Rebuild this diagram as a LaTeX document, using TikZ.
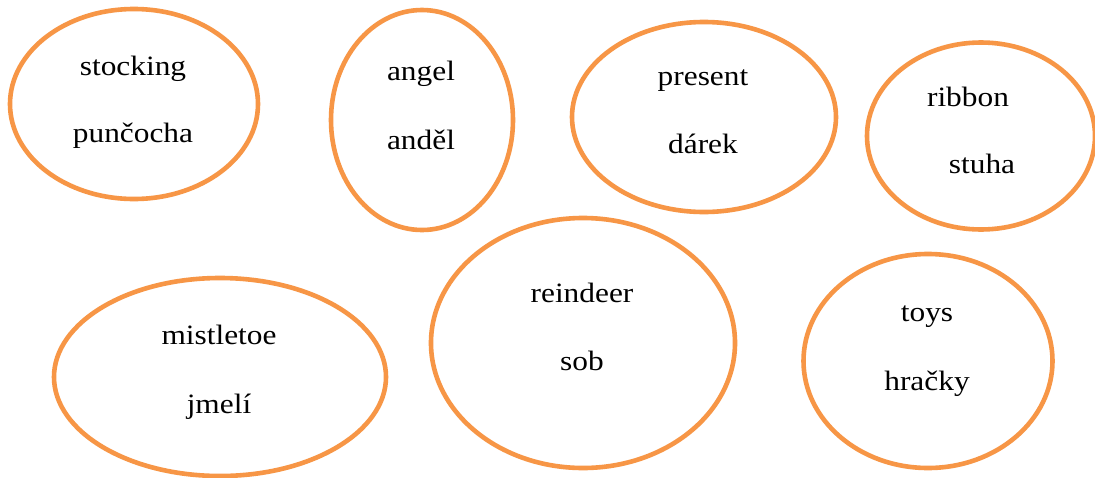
\documentclass[tikz,border=0pt]{standalone}
\usepackage{fontspec}
\setmainfont{Liberation Serif}
\newfontfamily\lblfont[FakeStretch=1.12]{Liberation Serif}
\usetikzlibrary{shapes.geometric}
\definecolor{ringorange}{HTML}{F79646}
\tikzset{
  ring/.style={ellipse, draw=ringorange, line width=4.6pt, inner sep=0pt},
  word/.style={anchor=base, inner sep=0pt, font=\lblfont\fontsize{28}{34}\selectfont, text=black}
}
\begin{document}
\begin{tikzpicture}[x=1pt,y=-1pt]
\useasboundingbox (0,0) rectangle (1095,477);
\clip (0,0) rectangle (1095,477);
\fill[white] (0,0) rectangle (1095,477);
% ellipses
\node[ring, minimum width=248pt, minimum height=190pt] (e1) at (134,104) {};
\node[ring, minimum width=182pt, minimum height=220pt] (e2) at (422,120) {};
\node[ring, minimum width=264pt, minimum height=190pt] (e3) at (704,117) {};
\node[ring, minimum width=228pt, minimum height=187pt] (e4) at (981,136) {};
\node[ring, minimum width=332pt, minimum height=198pt] (e5) at (220,377) {};
\node[ring, minimum width=304pt, minimum height=250pt] (e6) at (583,343) {};
\node[ring, minimum width=249pt, minimum height=214pt] (e7) at (928,361) {};
% words
\node[word] (w1a) at (133,75) {stocking};
\node[word] (w1b) at (133,142) {punčocha};
\node[word] (w2a) at (421,80) {angel};
\node[word] (w2b) at (421,149) {anděl};
\node[word] (w3a) at (703,85) {present};
\node[word] (w3b) at (703,153) {dárek};
\node[word] (w4a) at (968,106) {ribbon};
\node[word] (w4b) at (982,173) {stuha};
\node[word] (w5a) at (219,344) {mistletoe};
\node[word] (w5b) at (219,413) {jmelí};
\node[word] (w6a) at (582,302) {reindeer};
\node[word] (w6b) at (582,370) {sob};
\node[word] (w7a) at (927,321) {toys};
\node[word] (w7b) at (927,390) {hračky};
\end{tikzpicture}
\end{document}
